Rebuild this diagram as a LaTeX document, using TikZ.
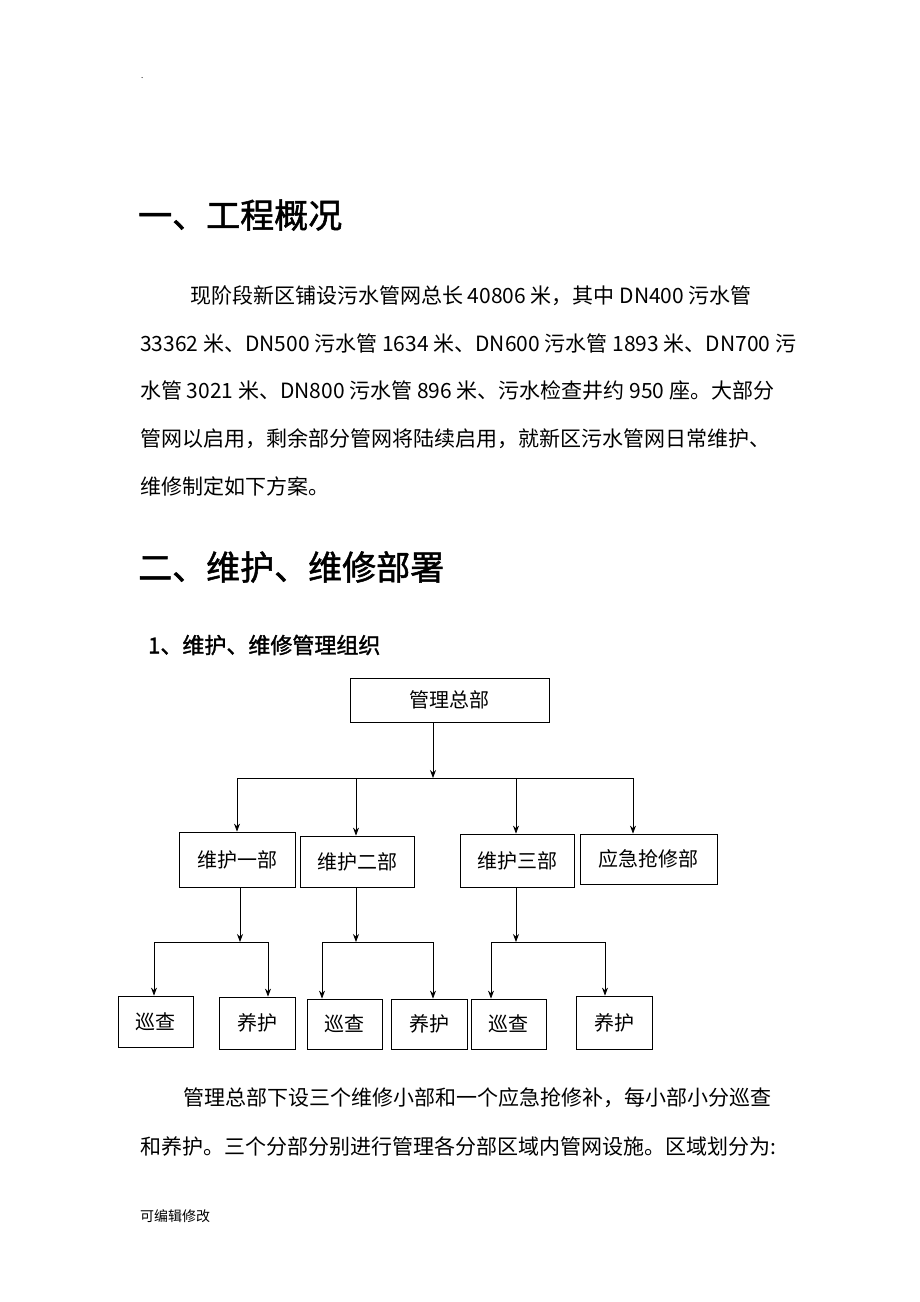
\documentclass[tikz,border=0pt]{standalone}
\usepackage{fontspec}
\usetikzlibrary{arrows.meta}
\setmainfont{Noto Sans CJK SC}
\newfontfamily\hfont[FakeBold=1.5]{Noto Sans CJK SC}
\begin{document}
\begin{tikzpicture}[x=1pt,y=-1pt,
  bx/.style={draw,line width=0.8pt,font=\fontsize{20}{20}\selectfont,inner sep=0pt},
  ar/.style={-{Stealth[length=8pt,width=6pt]},line width=0.8pt},
  ln/.style={line width=0.8pt},
  body/.style={anchor=west,inner sep=0pt,font=\fontsize{21}{21}\selectfont}]
\useasboundingbox (0,0) rectangle (920,1302);
\fill[white] (0,0) rectangle (920,1302);
\node[anchor=west,inner sep=0pt,font=\fontsize{8}{8}\selectfont] (dot) at (141,78) {.};
\node[anchor=west,inner sep=0pt,font=\fontsize{34}{34}\selectfont\hfont] (h1) at (138,215) {一、工程概况};
\node[body] (p1) at (190,296) {现阶段新区铺设污水管网总长 40806 米，其中 DN400 污水管};
\node[body] (p2) at (140,343) {33362 米、DN500 污水管 1634 米、DN600 污水管 1893 米、DN700 污};
\node[body] (p3) at (140,391) {水管 3021 米、DN800 污水管 896 米、污水检查井约 950 座。大部分};
\node[body] (p4) at (140,439) {管网以启用，剩余部分管网将陆续启用，就新区污水管网日常维护、};
\node[body] (p5) at (140,486) {维修制定如下方案。};
\node[anchor=west,inner sep=0pt,font=\fontsize{34}{34}\selectfont\hfont] (h2) at (138,567) {二、维护、维修部署};
\node[anchor=west,inner sep=0pt,font=\fontsize{22}{22}\selectfont\hfont] (h3) at (148,645) {1、维护、维修管理组织};
% boxes
\node[bx,minimum width=199pt,minimum height=44pt] (top) at (449.5,700) {\raisebox{-6pt}{管理总部}};
\node[bx,minimum width=116pt,minimum height=55pt] (d1) at (237,859.5) {\raisebox{-4pt}{维护一部}};
\node[bx,minimum width=114pt,minimum height=51pt] (d2) at (357,861.5) {\raisebox{-4pt}{维护二部}};
\node[bx,minimum width=114pt,minimum height=53pt] (d3) at (517,860.5) {\raisebox{-4pt}{维护三部}};
\node[bx,minimum width=137pt,minimum height=50pt] (d4) at (648.5,859) {\raisebox{-4pt}{应急抢修部}};
\node[bx,minimum width=75pt,minimum height=51pt] (b1) at (155.5,1021.5) {巡查};
\node[bx,minimum width=76pt,minimum height=52pt] (b2) at (257,1023) {养护};
\node[bx,minimum width=75pt,minimum height=50pt] (b3) at (344.5,1024) {巡查};
\node[bx,minimum width=76pt,minimum height=50pt] (b4) at (429,1024) {养护};
\node[bx,minimum width=75pt,minimum height=50pt] (b5) at (508.5,1024) {巡查};
\node[bx,minimum width=76pt,minimum height=53pt] (b6) at (614,1022.5) {养护};
\coordinate (j0) at (433,778);
\coordinate (j1) at (240,942);
\coordinate (j2) at (356,942);
\coordinate (j3) at (516,942);
\draw[ar] (top.south -| j0) -- (j0);
\draw[ln] (237,778) -- (633,778);
\foreach \x/\n in {237/d1,356/d2,516/d3,633/d4} \draw[ar] (\x,778) -- (\x,0 |- \n.north);
\draw[ar] (d1.south -| j1) -- (j1);
\draw[ar] (d2.south -| j2) -- (j2);
\draw[ar] (d3.south -| j3) -- (j3);
\draw[ln] (154,942) -- (268,942);
\draw[ln] (322,942) -- (433,942);
\draw[ln] (491,942) -- (605,942);
\draw[ar] (154,942) -- (154,0 |- b1.north);
\draw[ar] (268,942) -- (268,0 |- b2.north);
\draw[ar] (322,942) -- (322,0 |- b3.north);
\draw[ar] (433,942) -- (433,0 |- b4.north);
\draw[ar] (491,942) -- (491,0 |- b5.north);
\draw[ar] (605,942) -- (605,0 |- b6.north);
\node[body] (q1) at (183,1098) {管理总部下设三个维修小部和一个应急抢修补，每小部小分巡查};
\node[body] (q2) at (140,1146) {和养护。三个分部分别进行管理各分部区域内管网设施。区域划分为:};
\node[anchor=west,inner sep=0pt,font=\fontsize{14}{14}\selectfont] (ft) at (140,1216) {可编辑修改};
\end{tikzpicture}
\end{document}
